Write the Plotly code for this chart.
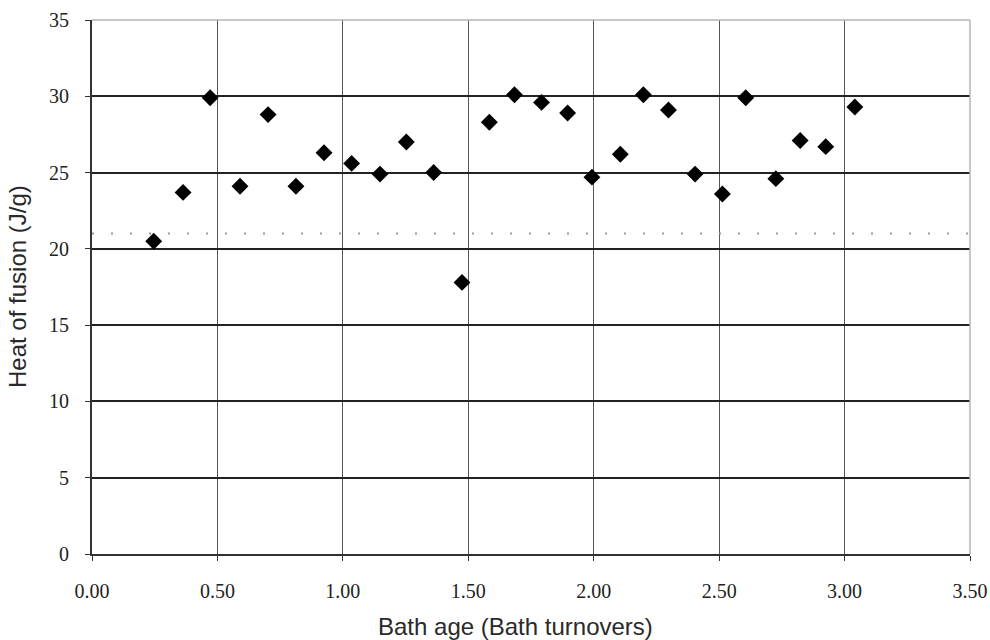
import plotly.graph_objects as go

# Bath age (bath turnovers) and measured heat of fusion (J/g)
bath_age = [0.246, 0.363, 0.471, 0.590, 0.702, 0.813, 0.925, 1.035, 1.148, 1.253,
            1.362, 1.475, 1.584, 1.684, 1.792, 1.896, 1.993, 2.106, 2.198, 2.298,
            2.404, 2.513, 2.606, 2.726, 2.823, 2.925, 3.041]
heat_of_fusion = [20.5, 23.7, 29.9, 24.1, 28.8, 24.1, 26.3, 25.6, 24.9, 27.0,
                  25.0, 17.8, 28.3, 30.1, 29.6, 28.9, 24.7, 26.2, 30.1, 29.1,
                  24.9, 23.6, 29.9, 24.6, 27.1, 26.7, 29.3]
reference_level = 21.0

x_ticks = [0.0, 0.5, 1.0, 1.5, 2.0, 2.5, 3.0, 3.5]
x_tick_labels = ["0.00", "0.50", "1.00", "1.50", "2.00", "2.50", "3.00", "3.50"]
y_ticks = [0, 5, 10, 15, 20, 25, 30, 35]
y_tick_labels = ["0", "5", "10", "15", "20", "25", "30", "35"]

x_title = "Bath age (Bath turnovers)"
y_title = "Heat of fusion (J/g)"

tick_font = dict(family="Liberation Serif", size=20, color="#222222")
title_font = dict(family="Liberation Sans", size=24, color="#2a2a2a")

fig = go.Figure()

fig.add_trace(go.Scatter(
    x=bath_age, y=heat_of_fusion, mode="markers",
    marker=dict(symbol="diamond", size=13, color="black"),
    showlegend=False,
))

# Dotted reference level across the full width
fig.add_shape(type="line", xref="paper", yref="y", x0=0, x1=1,
              y0=reference_level, y1=reference_level,
              line=dict(color="#9a9a9a", width=2, dash="2px,17px"))

# Light frame on top and right edges
fig.add_shape(type="line", xref="paper", yref="paper", x0=0, x1=1, y0=1, y1=1,
              line=dict(color="#b5b5b5", width=1.5))
fig.add_shape(type="line", xref="paper", yref="paper", x0=1, x1=1, y0=0, y1=1,
              line=dict(color="#b5b5b5", width=1.5))

# Axis titles
fig.add_annotation(text=x_title, xref="paper", yref="paper", x=0.5, y=0,
                   xanchor="center", yanchor="middle", xshift=-16, yshift=-72,
                   showarrow=False, font=title_font)
fig.add_annotation(text=y_title, xref="paper", yref="paper", x=0, y=0.5,
                   xanchor="center", yanchor="middle", xshift=-75, textangle=-90,
                   showarrow=False, font=title_font)

fig.update_layout(
    width=990, height=640,
    margin=dict(l=92, r=20, t=20, b=86),
    paper_bgcolor="white", plot_bgcolor="white",
    xaxis=dict(
        range=[0, 3.5], tickvals=x_ticks, ticktext=x_tick_labels,
        showgrid=True, gridcolor="#555555", gridwidth=1,
        showline=True, linecolor="#333333", linewidth=2,
        ticks="outside", ticklen=5, tickcolor="#333333",
        ticklabelstandoff=13, automargin=False,
        zeroline=False, tickfont=tick_font,
    ),
    yaxis=dict(
        range=[0, 35], tickvals=y_ticks, ticktext=y_tick_labels,
        showgrid=True, gridcolor="#222222", gridwidth=1.5,
        showline=True, linecolor="#333333", linewidth=2,
        ticks="outside", ticklen=5, tickcolor="#333333",
        ticklabelstandoff=12, automargin=False,
        zeroline=False, tickfont=tick_font,
    ),
)

fig.write_html("out.html")
